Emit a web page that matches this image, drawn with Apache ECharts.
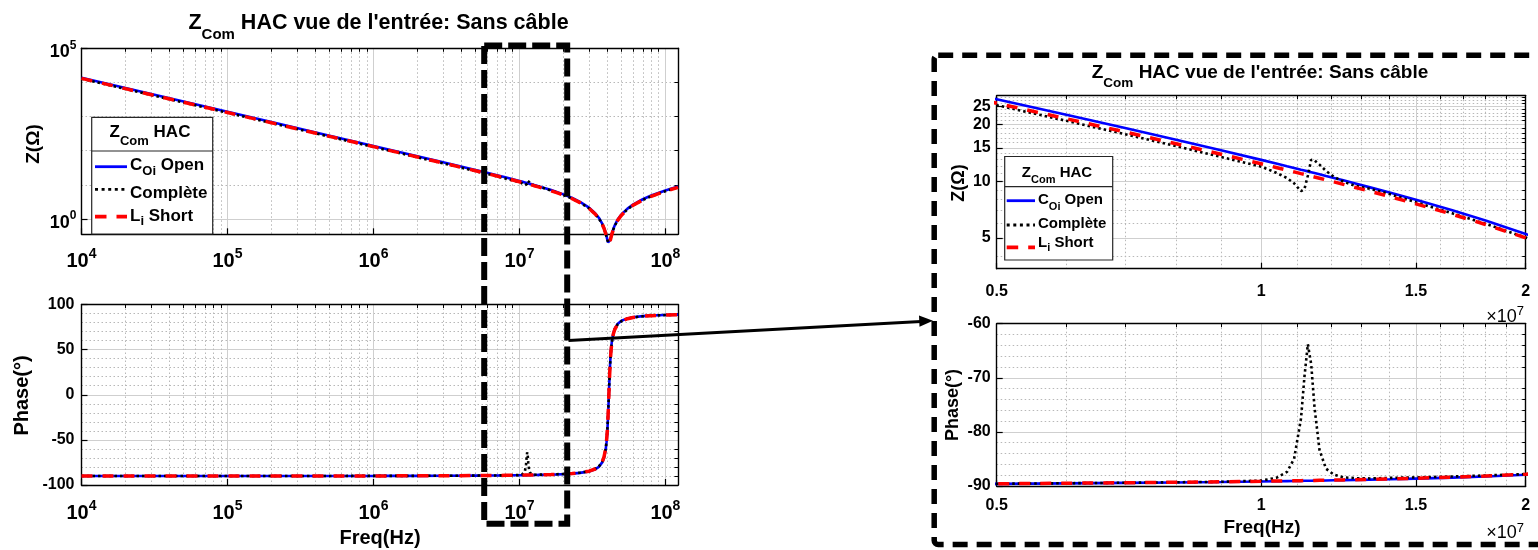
<!DOCTYPE html>
<html><head><meta charset="utf-8">
<script src="https://cdn.jsdelivr.net/npm/echarts@6/dist/echarts.min.js"></script>
<style>html,body{margin:0;padding:0;background:#fff}#c{width:1538px;height:550px}</style>
</head><body><div id="c"></div>
<script>
// ---------------- DATA ----------------
const freqHz = [1e4, 2e4, 5e4, 1e5, 2e5, 5e5, 1e6, 2e6, 3e6,
  5e6, 6e6, 7e6, 8e6, 9e6,
  1e7, 1.04e7, 1.07e7, 1.09e7, 1.11e7, 1.12e7, 1.13e7, 1.14e7, 1.15e7,
  1.165e7, 1.185e7, 1.21e7, 1.24e7, 1.28e7, 1.33e7, 1.4e7, 1.5e7, 1.65e7, 1.8e7,
  2e7,
  2.3e7, 2.6e7, 3e7, 3.3e7, 3.5e7, 3.7e7, 3.8e7, 3.9e7, 3.95e7,
  4e7, 4.05e7, 4.1e7, 4.15e7, 4.2e7, 4.25e7, 4.3e7, 4.4e7, 4.5e7, 4.7e7,
  5e7, 5.5e7, 6e7, 7e7, 8e7, 1e8, 1.22e8];

// |Z| in ohms
const zOpen = [13800, 6900, 2760, 1380, 690, 276, 137.9, 68.8, 45.75,
  27.19, 22.51, 19.14, 16.59, 14.59,
  12.98, 12.42, 12.02, 11.77, 11.52, 11.40, 11.28, 11.17, 11.06,
  10.89, 10.67, 10.41, 10.11, 9.73, 9.28, 8.71, 7.97, 7.01, 6.19,
  5.26,
  4.11, 3.17, 2.14, 1.473, 1.087, 0.717, 0.546, 0.387, 0.315,
  0.252, 0.207, 0.190, 0.207, 0.250, 0.308, 0.373, 0.512, 0.656, 0.942,
  1.358, 2.015, 2.63, 3.78, 4.85, 6.83, 8.88];
const zComplete = [12890, 6440, 2578, 1289, 644, 257.5, 128.6, 64.2, 42.6,
  25.3, 20.9, 17.75, 15.35, 13.45,
  11.95, 11.1, 10.4, 9.75, 8.85, 9.1, 10.7, 13.0, 12.9,
  12.25, 11.35, 10.55, 9.95, 9.45, 9.12, 8.55, 7.73, 6.76, 5.95,
  5.03,
  3.92, 3.02, 2.04, 1.403, 1.036, 0.687, 0.524, 0.373, 0.305,
  0.247, 0.206, 0.190, 0.205, 0.245, 0.299, 0.360, 0.492, 0.627, 0.899,
  1.295, 1.921, 2.51, 3.60, 4.62, 6.51, 8.47];
const zShort = [13150, 6575, 2630, 1315, 657.5, 263, 131.4, 65.6, 43.6,
  25.91, 21.45, 18.24, 15.81, 13.91,
  12.37, 11.83, 11.45, 11.21, 10.98, 10.87, 10.75, 10.64, 10.53,
  10.38, 10.17, 9.92, 9.63, 9.27, 8.85, 8.30, 7.59, 6.68, 5.90,
  5.01,
  3.92, 3.02, 2.04, 1.403, 1.036, 0.687, 0.524, 0.373, 0.305,
  0.247, 0.206, 0.190, 0.205, 0.245, 0.299, 0.360, 0.492, 0.627, 0.899,
  1.295, 1.921, 2.51, 3.60, 4.62, 6.51, 8.47];

// Phase in degrees
const phaseOpen = [-90.0, -90.0, -89.99, -89.99, -89.98, -89.96, -89.92, -89.84, -89.76,
  -89.60, -89.52, -89.43, -89.34, -89.25,
  -89.16, -89.12, -89.09, -89.07, -89.05, -89.04, -89.03, -89.02, -89.01,
  -89.0, -88.98, -88.95, -88.92, -88.88, -88.83, -88.75, -88.63, -88.45, -88.24,
  -87.93,
  -87.35, -86.57, -84.93, -82.59, -79.93, -74.65, -69.64, -60.58, -52.87,
  -41.14, -23.47, 0, 23.2, 40.5, 51.87, 59.35, 68.23, 73.15, 78.36,
  81.96, 84.59, 85.86, 87.12, 87.75, 88.41, 88.77];
const phaseComplete = [-90.0, -90.0, -89.99, -89.99, -89.98, -89.96, -89.92, -89.83, -89.75,
  -89.58, -89.49, -89.40, -89.31, -89.22,
  -89.0, -88.5, -87.4, -85.0, -77.5, -69.8, -63.8, -67.5, -75.5,
  -83.3, -86.8, -87.9, -88.4, -88.55, -88.6, -88.5, -88.4, -88.25, -88.05,
  -87.8,
  -87.23, -86.40, -84.68, -82.29, -79.44, -73.94, -68.70, -59.40, -51.50,
  -39.75, -22.50, 0, 22.2, 39.2, 50.5, 58.1, 67.3, 72.4, 77.8,
  81.56, 84.3, 85.66, 86.98, 87.64, 88.33, 88.71];
const phaseShort = [-90.0, -90.0, -89.99, -89.99, -89.98, -89.96, -89.92, -89.83, -89.75,
  -89.58, -89.49, -89.40, -89.31, -89.22,
  -89.12, -89.08, -89.05, -89.03, -89.01, -89.0, -88.99, -88.98, -88.97,
  -88.95, -88.93, -88.90, -88.87, -88.83, -88.77, -88.69, -88.57, -88.37, -88.16,
  -87.83,
  -87.23, -86.40, -84.68, -82.29, -79.44, -73.94, -68.70, -59.40, -51.50,
  -39.75, -22.50, 0, 22.2, 39.2, 50.5, 58.1, 67.3, 72.4, 77.8,
  81.56, 84.3, 85.66, 86.98, 87.64, 88.33, 88.71];

// Axis ranges and ticks
const leftFreqRange = [1e4, 1.22e8];
const leftFreqTicks = [1e4, 1e5, 1e6, 1e7, 1e8];
const leftFreqMinorTicks = [];
for (let d = 4; d <= 7; d++) for (let k = 2; k <= 9; k++) leftFreqMinorTicks.push(k * Math.pow(10, d));
const leftZRange = [0.3556, 1e5];
const leftZTicks = [1, 1e5];
const leftZMinorTicks = [10, 100, 1000, 10000];
const leftPhaseRange = [-100, 100];
const leftPhaseTicks = [-100, -50, 0, 50, 100];
const leftPhaseMinorTicks = [-90, -80, -70, -60, -40, -30, -20, -10, 10, 20, 30, 40, 60, 70, 80, 90];

const zoomFreqRange = [5e6, 2e7];
const zoomFreqTicks = [5e6, 1e7, 1.5e7, 2e7];
const zoomFreqMinorTicks = [6e6, 7e6, 8e6, 9e6, 1.1e7, 1.2e7, 1.3e7, 1.4e7, 1.6e7, 1.7e7, 1.8e7, 1.9e7];
const zoomZRange = [3.44, 28.4];
const zoomZTicks = [5, 10, 15, 20, 25];
const zoomZMinorTicks = [4, 6, 7, 8, 9, 11, 12, 13, 14, 16, 17, 18, 19, 21, 22, 23, 24, 26, 27, 28];
const zoomPhaseRange = [-90, -60];
const zoomPhaseTicks = [-90, -80, -70, -60];
const zoomPhaseMinorTicks = [-88, -86, -84, -82, -78, -76, -74, -72, -68, -66, -64, -62];

const seriesNames = ['C_Oi Open', 'Complète', 'L_i Short'];

// ---------------- CHART ----------------
const FONT = "'Liberation Sans', Arial, Helvetica, sans-serif";
const lg = Math.log10;
const T = (v, isLog) => isLog ? lg(v) : v;

const grids = [
  {left: 81.5, top: 48.3, width: 596.5, height: 186},
  {left: 81.5, top: 304.5, width: 596.5, height: 180.5},
  {left: 996.7, top: 95.7, width: 529, height: 173},
  {left: 996.7, top: 323.7, width: 529, height: 162.3}
];

// superscript rich style: base centre sits `off` px below the exponent centre
function supRich(fs, ss, off, weight) {
  const w = weight || 'bold';
  return {
    b: {fontSize: fs, lineHeight: ss / 2 + off + fs / 2, verticalAlign: 'bottom', fontFamily: FONT, fontWeight: w, color: '#000'},
    s: {fontSize: ss, lineHeight: ss, verticalAlign: 'top', fontFamily: FONT, fontWeight: w, color: '#000'}
  };
}
// subscript rich style: subscript centre sits `off` px below the main centre
function subRich(fs, ss, off) {
  return {
    m: {fontSize: fs, lineHeight: fs, verticalAlign: 'top', fontFamily: FONT, fontWeight: 'bold', color: '#000'},
    s: {fontSize: ss, lineHeight: fs / 2 + off + ss / 2, verticalAlign: 'bottom', fontFamily: FONT, fontWeight: 'bold', color: '#000'}
  };
}
const decFmt = v => '{b|10}{s|' + Math.round(v) + '}';

function mkMajor(dim, gi, range, isLog, ticks, labelOpt) {
  const vals = ticks.map(t => T(t, isLog));
  return {
    type: 'value', gridIndex: gi, position: dim === 'x' ? 'bottom' : 'left',
    min: T(range[0], isLog), max: T(range[1], isLog),
    axisLine: {show: true, onZero: false, lineStyle: {color: '#000', width: 1.4}},
    axisTick: {show: true, inside: true, length: 6, customValues: vals, lineStyle: {color: '#000', width: 1.2}},
    axisLabel: Object.assign({show: true, customValues: vals, color: '#000', fontFamily: FONT,
      fontWeight: 'bold', hideOverlap: false}, labelOpt),
    splitLine: {show: true, lineStyle: {color: '#cfcfcf', width: 1, type: 'solid'}},
    minorTick: {show: false}, minorSplitLine: {show: false}
  };
}
function mkMinor(dim, gi, range, isLog, ticks) {
  const vals = ticks.map(t => T(t, isLog));
  return {
    type: 'value', gridIndex: gi, position: dim === 'x' ? 'top' : 'right',
    min: T(range[0], isLog), max: T(range[1], isLog),
    axisLine: {show: true, onZero: false, lineStyle: {color: '#000', width: 1.4}},
    axisTick: {show: true, inside: true, length: 3.5, customValues: vals, lineStyle: {color: '#000', width: 1}},
    axisLabel: {show: false},
    splitLine: {show: true, lineStyle: {color: '#b8b8b8', width: 1, type: [1.5, 2.5]}},
    minorTick: {show: false}, minorSplitLine: {show: false}
  };
}

const zoomFmt = v => String(Math.round(Math.pow(10, v) / 1e6) / 10);
const xAxis = [
  mkMajor('x', 0, leftFreqRange, true, leftFreqTicks, {formatter: decFmt, margin: 13, rich: supRich(20, 14, 7.3)}),
  mkMinor('x', 0, leftFreqRange, true, leftFreqMinorTicks),
  mkMajor('x', 1, leftFreqRange, true, leftFreqTicks, {formatter: decFmt, margin: 14, rich: supRich(20, 14, 7.3)}),
  mkMinor('x', 1, leftFreqRange, true, leftFreqMinorTicks),
  mkMajor('x', 2, zoomFreqRange, true, zoomFreqTicks, {fontSize: 16, margin: 15, formatter: zoomFmt}),
  mkMinor('x', 2, zoomFreqRange, true, zoomFreqMinorTicks),
  mkMajor('x', 3, zoomFreqRange, true, zoomFreqTicks, {fontSize: 16, margin: 12, formatter: zoomFmt}),
  mkMinor('x', 3, zoomFreqRange, true, zoomFreqMinorTicks)
];
const yAxis = [
  mkMajor('y', 0, leftZRange, true, leftZTicks, {formatter: decFmt, margin: 5, padding: [4, 0, 0, 0], rich: supRich(18, 12, 7)}),
  mkMinor('y', 0, leftZRange, true, leftZMinorTicks),
  mkMajor('y', 1, leftPhaseRange, false, leftPhaseTicks, {fontSize: 16, margin: 7}),
  mkMinor('y', 1, leftPhaseRange, false, leftPhaseMinorTicks),
  mkMajor('y', 2, zoomZRange, true, zoomZTicks, {fontSize: 16, margin: 6,
    formatter: v => String(Math.round(Math.pow(10, v)))}),
  mkMinor('y', 2, zoomZRange, true, zoomZMinorTicks),
  mkMajor('y', 3, zoomPhaseRange, false, zoomPhaseTicks, {fontSize: 16, margin: 6}),
  mkMinor('y', 3, zoomPhaseRange, false, zoomPhaseMinorTicks)
];

const styles = [
  {color: '#0000ff', width: 2.6, type: 'solid'},
  {color: '#000000', width: 2.6, type: [2.5, 3]},
  {color: '#ff0000', width: 3.5, type: [11, 10]}
];
const zSets = [zOpen, zComplete, zShort];
const phSets = [phaseOpen, phaseComplete, phaseShort];

const series = [];
for (let gi = 0; gi < 4; gi++) {
  const isZ = (gi === 0 || gi === 2);
  for (let k = 0; k < 3; k++) {
    const src = isZ ? zSets[k] : phSets[k];
    series.push({
      type: 'line', name: seriesNames[k], xAxisIndex: 2 * gi, yAxisIndex: 2 * gi,
      data: freqHz.map((f, i) => [lg(f), isZ ? lg(src[i]) : src[i]]),
      showSymbol: false, symbol: 'none', clip: gi !== 0, silent: true, z: 3 + k,
      lineStyle: {color: styles[k].color, width: styles[k].width, type: styles[k].type, cap: 'butt'},
      emphasis: {disabled: true}
    });
  }
}

// ---------- graphics: titles, labels, legends, zoom box, arrow ----------
const G = [];
function txt(x, y, text, opt) {
  G.push(Object.assign({type: 'text', x: x, y: y, z: 120, silent: true,
    style: Object.assign({text: text, fill: '#000', fontFamily: FONT, fontWeight: 'bold',
      align: 'center', verticalAlign: 'middle'}, opt.style || {})}, opt.el || {}));
}
function richTxt(x, yTop, text, rich, align) {
  G.push({type: 'text', x: x, y: yTop, z: 120, silent: true,
    style: {text: text, rich: rich, fill: '#000', fontFamily: FONT, fontWeight: 'bold',
      align: align || 'center', verticalAlign: 'top'}});
}

// Titles (yTop = centre of main text - fs/2)
richTxt(378.5, 22.5 - 10.75, "{m|Z}{s|Com}{m| HAC vue de l'entrée: Sans câble}", subRich(21.5, 15, 12));
richTxt(1260, 72.8 - 9.5, "{m|Z}{s|Com}{m| HAC vue de l'entrée: Sans câble}", subRich(19, 13.5, 10.5));

// Axis names
txt(33.6, 144, 'Z(Ω)', {style: {fontSize: 19}, el: {rotation: Math.PI / 2}});
txt(22.4, 395.5, 'Phase(°)', {style: {fontSize: 20}, el: {rotation: Math.PI / 2}});
txt(380, 538, 'Freq(Hz)', {style: {fontSize: 20}});
txt(959.4, 183, 'Z(Ω)', {style: {fontSize: 18}, el: {rotation: Math.PI / 2}});
txt(953.5, 405, 'Phase(°)', {style: {fontSize: 18}, el: {rotation: Math.PI / 2}});
txt(1262, 528, 'Freq(Hz)', {style: {fontSize: 19}});
// x10^7 multipliers
const expRich = supRich(18, 13, 5.2, 'normal');
richTxt(1524, 316.7 - 11.7, '{b|×10}{s|7}', expRich, 'right');
richTxt(1524, 533.3 - 11.7, '{b|×10}{s|7}', expRich, 'right');

// Legends
function legend(box, divY, title, items, lineX, fs, ss) {
  G.push({type: 'rect', z: 110, silent: true, shape: {x: box[0], y: box[1], width: box[2], height: box[3]},
    style: {fill: '#fff', stroke: '#262626', lineWidth: 1.2}});
  G.push({type: 'line', z: 111, silent: true, shape: {x1: box[0], y1: divY, x2: box[0] + box[2], y2: divY},
    style: {stroke: '#262626', lineWidth: 1.2}});
  richTxt(title.x, title.c - fs / 2, '{m|Z}{s|Com}{m| HAC}', subRich(fs, ss, title.off));
  const dash = [null, [3, 3.6], [11.5, 10]];
  items.forEach((it, k) => {
    G.push({type: 'line', z: 112, silent: true, shape: {x1: lineX[0], y1: it.ly, x2: lineX[1], y2: it.ly},
      style: {stroke: styles[k].color, lineWidth: styles[k].width + 0.2, lineDash: dash[k], lineCap: 'butt'}});
    richTxt(lineX[1] + 3, it.c - fs / 2, it.text, subRich(fs, ss, it.off), 'left');
  });
}
legend([91.7, 117.3, 121, 116.7], 151, {x: 150, c: 132.5, off: 8.5}, [
  {ly: 166.7, c: 165.3, text: '{m|C}{s|Oi}{m| Open}', off: 6.4},
  {ly: 189.3, c: 193.3, text: '{m|Complète}', off: 6},
  {ly: 216.7, c: 216.2, text: '{m|L}{s|i}{m| Short}', off: 5.5}
], [95, 127], 17, 13);
legend([1004.7, 156.5, 108, 103.5], 186.7, {x: 1057, c: 172.5, off: 7.8}, [
  {ly: 200.7, c: 200.2, text: '{m|C}{s|Oi}{m| Open}', off: 7},
  {ly: 225, c: 224.2, text: '{m|Complète}', off: 6},
  {ly: 247.3, c: 243.2, text: '{m|L}{s|i}{m| Short}', off: 5}
], [1006.7, 1035], 15, 11);

// Zoom region rectangle, zoom panel rectangle and arrow
G.push({type: 'rect', z: 130, silent: true, shape: {x: 484.2, y: 45.5, width: 83, height: 478.3},
  style: {fill: 'none', stroke: '#000', lineWidth: 6, lineDash: [18, 6]}});
G.push({type: 'rect', z: 130, silent: true, shape: {x: 934.2, y: 55.3, width: 640, height: 489.2, r: 4},
  style: {fill: 'none', stroke: '#000', lineWidth: 5.5, lineDash: [15, 9]}});
G.push({type: 'line', z: 130, silent: true, shape: {x1: 568.5, y1: 340.5, x2: 921, y2: 321.5},
  style: {stroke: '#000', lineWidth: 3}});
G.push({type: 'polygon', z: 130, silent: true, shape: {points: [[933, 320.8], [919, 315.5], [919.5, 326.8]]},
  style: {fill: '#000'}});

const chart = echarts.init(document.getElementById('c'), null, {renderer: 'canvas'});
chart.setOption({
  animation: false,
  backgroundColor: '#ffffff',
  grid: grids.map(g => Object.assign({containLabel: false, outerBoundsMode: 'none', show: false}, g)),
  xAxis: xAxis,
  yAxis: yAxis,
  series: series,
  graphic: {elements: G}
});
</script>
</body></html>
